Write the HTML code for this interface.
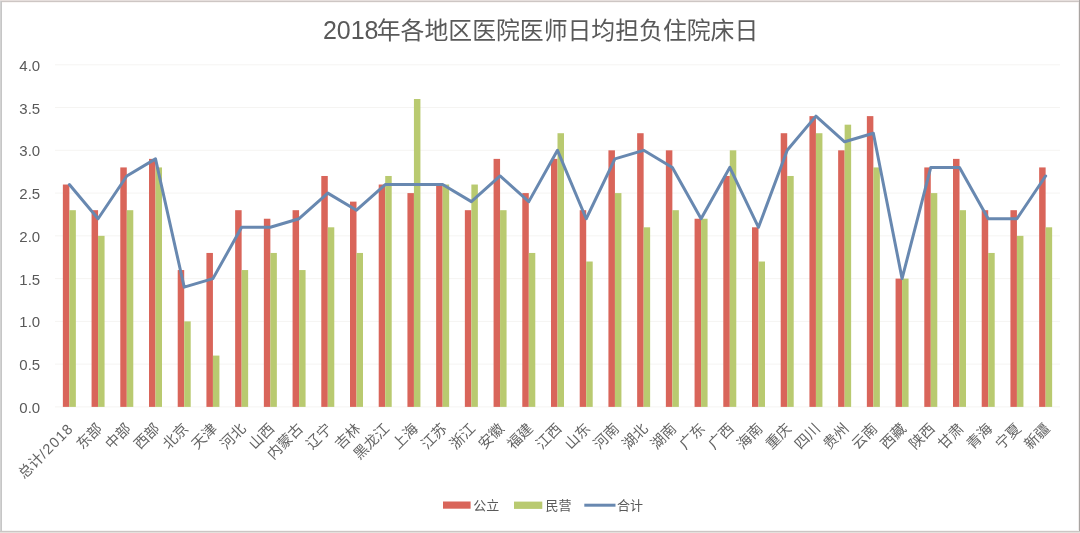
<!DOCTYPE html>
<html lang="zh"><head><meta charset="utf-8"><title>2018年各地区医院医师日均担负住院床日</title>
<style>html,body{margin:0;padding:0;background:#fff;overflow:hidden}svg{display:block}</style></head>
<body>
<svg width="1080" height="533" viewBox="0 0 1080 533">
<rect x="0" y="0" width="1080" height="533" fill="#fff"/>
<line x1="55.0" x2="1060.0" y1="406.90" y2="406.90" stroke="#f5f4f2" stroke-width="1"/>
<line x1="55.0" x2="1060.0" y1="364.14" y2="364.14" stroke="#f5f4f2" stroke-width="1"/>
<line x1="55.0" x2="1060.0" y1="321.38" y2="321.38" stroke="#f5f4f2" stroke-width="1"/>
<line x1="55.0" x2="1060.0" y1="278.61" y2="278.61" stroke="#f5f4f2" stroke-width="1"/>
<line x1="55.0" x2="1060.0" y1="235.85" y2="235.85" stroke="#f5f4f2" stroke-width="1"/>
<line x1="55.0" x2="1060.0" y1="193.09" y2="193.09" stroke="#f5f4f2" stroke-width="1"/>
<line x1="55.0" x2="1060.0" y1="150.32" y2="150.32" stroke="#f5f4f2" stroke-width="1"/>
<line x1="55.0" x2="1060.0" y1="107.56" y2="107.56" stroke="#f5f4f2" stroke-width="1"/>
<line x1="55.0" x2="1060.0" y1="64.80" y2="64.80" stroke="#f5f4f2" stroke-width="1"/>
<rect x="62.86" y="184.53" width="6.5" height="222.36" fill="#d9655a"/>
<rect x="69.36" y="210.19" width="6.5" height="196.71" fill="#b9ca70"/>
<rect x="91.57" y="210.19" width="6.5" height="196.71" fill="#d9655a"/>
<rect x="98.07" y="235.85" width="6.5" height="171.05" fill="#b9ca70"/>
<rect x="120.29" y="167.43" width="6.5" height="239.47" fill="#d9655a"/>
<rect x="126.79" y="210.19" width="6.5" height="196.71" fill="#b9ca70"/>
<rect x="149.00" y="158.88" width="6.5" height="248.02" fill="#d9655a"/>
<rect x="155.50" y="167.43" width="6.5" height="239.47" fill="#b9ca70"/>
<rect x="177.71" y="270.06" width="6.5" height="136.84" fill="#d9655a"/>
<rect x="184.21" y="321.38" width="6.5" height="85.52" fill="#b9ca70"/>
<rect x="206.43" y="252.95" width="6.5" height="153.94" fill="#d9655a"/>
<rect x="212.93" y="355.58" width="6.5" height="51.31" fill="#b9ca70"/>
<rect x="235.14" y="210.19" width="6.5" height="196.71" fill="#d9655a"/>
<rect x="241.64" y="270.06" width="6.5" height="136.84" fill="#b9ca70"/>
<rect x="263.86" y="218.74" width="6.5" height="188.16" fill="#d9655a"/>
<rect x="270.36" y="252.95" width="6.5" height="153.94" fill="#b9ca70"/>
<rect x="292.57" y="210.19" width="6.5" height="196.71" fill="#d9655a"/>
<rect x="299.07" y="270.06" width="6.5" height="136.84" fill="#b9ca70"/>
<rect x="321.29" y="175.98" width="6.5" height="230.92" fill="#d9655a"/>
<rect x="327.79" y="227.30" width="6.5" height="179.60" fill="#b9ca70"/>
<rect x="350.00" y="201.64" width="6.5" height="205.26" fill="#d9655a"/>
<rect x="356.50" y="252.95" width="6.5" height="153.94" fill="#b9ca70"/>
<rect x="378.71" y="184.53" width="6.5" height="222.36" fill="#d9655a"/>
<rect x="385.21" y="175.98" width="6.5" height="230.92" fill="#b9ca70"/>
<rect x="407.43" y="193.09" width="6.5" height="213.81" fill="#d9655a"/>
<rect x="413.93" y="99.01" width="6.5" height="307.89" fill="#b9ca70"/>
<rect x="436.14" y="184.53" width="6.5" height="222.36" fill="#d9655a"/>
<rect x="442.64" y="184.53" width="6.5" height="222.36" fill="#b9ca70"/>
<rect x="464.86" y="210.19" width="6.5" height="196.71" fill="#d9655a"/>
<rect x="471.36" y="184.53" width="6.5" height="222.36" fill="#b9ca70"/>
<rect x="493.57" y="158.88" width="6.5" height="248.02" fill="#d9655a"/>
<rect x="500.07" y="210.19" width="6.5" height="196.71" fill="#b9ca70"/>
<rect x="522.29" y="193.09" width="6.5" height="213.81" fill="#d9655a"/>
<rect x="528.79" y="252.95" width="6.5" height="153.94" fill="#b9ca70"/>
<rect x="551.00" y="158.88" width="6.5" height="248.02" fill="#d9655a"/>
<rect x="557.50" y="133.22" width="6.5" height="273.68" fill="#b9ca70"/>
<rect x="579.71" y="210.19" width="6.5" height="196.71" fill="#d9655a"/>
<rect x="586.21" y="261.51" width="6.5" height="145.39" fill="#b9ca70"/>
<rect x="608.43" y="150.32" width="6.5" height="256.57" fill="#d9655a"/>
<rect x="614.93" y="193.09" width="6.5" height="213.81" fill="#b9ca70"/>
<rect x="637.14" y="133.22" width="6.5" height="273.68" fill="#d9655a"/>
<rect x="643.64" y="227.30" width="6.5" height="179.60" fill="#b9ca70"/>
<rect x="665.86" y="150.32" width="6.5" height="256.57" fill="#d9655a"/>
<rect x="672.36" y="210.19" width="6.5" height="196.71" fill="#b9ca70"/>
<rect x="694.57" y="218.74" width="6.5" height="188.16" fill="#d9655a"/>
<rect x="701.07" y="218.74" width="6.5" height="188.16" fill="#b9ca70"/>
<rect x="723.29" y="175.98" width="6.5" height="230.92" fill="#d9655a"/>
<rect x="729.79" y="150.32" width="6.5" height="256.57" fill="#b9ca70"/>
<rect x="752.00" y="227.30" width="6.5" height="179.60" fill="#d9655a"/>
<rect x="758.50" y="261.51" width="6.5" height="145.39" fill="#b9ca70"/>
<rect x="780.71" y="133.22" width="6.5" height="273.68" fill="#d9655a"/>
<rect x="787.21" y="175.98" width="6.5" height="230.92" fill="#b9ca70"/>
<rect x="809.43" y="116.12" width="6.5" height="290.78" fill="#d9655a"/>
<rect x="815.93" y="133.22" width="6.5" height="273.68" fill="#b9ca70"/>
<rect x="838.14" y="150.32" width="6.5" height="256.57" fill="#d9655a"/>
<rect x="844.64" y="124.67" width="6.5" height="282.23" fill="#b9ca70"/>
<rect x="866.86" y="116.12" width="6.5" height="290.78" fill="#d9655a"/>
<rect x="873.36" y="167.43" width="6.5" height="239.47" fill="#b9ca70"/>
<rect x="895.57" y="278.61" width="6.5" height="128.29" fill="#d9655a"/>
<rect x="902.07" y="278.61" width="6.5" height="128.29" fill="#b9ca70"/>
<rect x="924.29" y="167.43" width="6.5" height="239.47" fill="#d9655a"/>
<rect x="930.79" y="193.09" width="6.5" height="213.81" fill="#b9ca70"/>
<rect x="953.00" y="158.88" width="6.5" height="248.02" fill="#d9655a"/>
<rect x="959.50" y="210.19" width="6.5" height="196.71" fill="#b9ca70"/>
<rect x="981.71" y="210.19" width="6.5" height="196.71" fill="#d9655a"/>
<rect x="988.21" y="252.95" width="6.5" height="153.94" fill="#b9ca70"/>
<rect x="1010.43" y="210.19" width="6.5" height="196.71" fill="#d9655a"/>
<rect x="1016.93" y="235.85" width="6.5" height="171.05" fill="#b9ca70"/>
<rect x="1039.14" y="167.43" width="6.5" height="239.47" fill="#d9655a"/>
<rect x="1045.64" y="227.30" width="6.5" height="179.60" fill="#b9ca70"/>
<polyline points="69.36,184.53 98.07,218.74 126.79,175.98 155.50,158.88 184.21,287.16 212.93,278.61 241.64,227.30 270.36,227.30 299.07,218.74 327.79,193.09 356.50,210.19 385.21,184.53 413.93,184.53 442.64,184.53 471.36,201.64 500.07,175.98 528.79,201.64 557.50,150.32 586.21,218.74 614.93,158.88 643.64,150.32 672.36,167.43 701.07,218.74 729.79,167.43 758.50,227.30 787.21,150.32 815.93,116.12 844.64,141.77 873.36,133.22 902.07,278.61 930.79,167.43 959.50,167.43 988.21,218.74 1016.93,218.74 1045.64,175.98" fill="none" stroke="#6888b0" stroke-width="3" stroke-linejoin="round" stroke-linecap="round"/>
<text x="19.3" y="412.90" font-size="15" fill="#595959" font-family="&quot;Liberation Sans&quot;, &quot;Noto Sans CJK SC&quot;, sans-serif">0.0</text>
<text x="19.3" y="370.14" font-size="15" fill="#595959" font-family="&quot;Liberation Sans&quot;, &quot;Noto Sans CJK SC&quot;, sans-serif">0.5</text>
<text x="19.3" y="327.38" font-size="15" fill="#595959" font-family="&quot;Liberation Sans&quot;, &quot;Noto Sans CJK SC&quot;, sans-serif">1.0</text>
<text x="19.3" y="284.61" font-size="15" fill="#595959" font-family="&quot;Liberation Sans&quot;, &quot;Noto Sans CJK SC&quot;, sans-serif">1.5</text>
<text x="19.3" y="241.85" font-size="15" fill="#595959" font-family="&quot;Liberation Sans&quot;, &quot;Noto Sans CJK SC&quot;, sans-serif">2.0</text>
<text x="19.3" y="199.09" font-size="15" fill="#595959" font-family="&quot;Liberation Sans&quot;, &quot;Noto Sans CJK SC&quot;, sans-serif">2.5</text>
<text x="19.3" y="156.32" font-size="15" fill="#595959" font-family="&quot;Liberation Sans&quot;, &quot;Noto Sans CJK SC&quot;, sans-serif">3.0</text>
<text x="19.3" y="113.56" font-size="15" fill="#595959" font-family="&quot;Liberation Sans&quot;, &quot;Noto Sans CJK SC&quot;, sans-serif">3.5</text>
<text x="19.3" y="70.80" font-size="15" fill="#595959" font-family="&quot;Liberation Sans&quot;, &quot;Noto Sans CJK SC&quot;, sans-serif">4.0</text>
<text transform="translate(74.36,429.40) rotate(-45)" text-anchor="end" font-size="14.5" fill="#646464" font-family="&quot;Liberation Sans&quot;, &quot;Noto Sans CJK SC&quot;, sans-serif">总计<tspan letter-spacing="1.1">/2018</tspan></text>
<text transform="translate(103.07,429.40) rotate(-45)" text-anchor="end" font-size="14.5" fill="#646464" font-family="&quot;Liberation Sans&quot;, &quot;Noto Sans CJK SC&quot;, sans-serif">东部</text>
<text transform="translate(131.79,429.40) rotate(-45)" text-anchor="end" font-size="14.5" fill="#646464" font-family="&quot;Liberation Sans&quot;, &quot;Noto Sans CJK SC&quot;, sans-serif">中部</text>
<text transform="translate(160.50,429.40) rotate(-45)" text-anchor="end" font-size="14.5" fill="#646464" font-family="&quot;Liberation Sans&quot;, &quot;Noto Sans CJK SC&quot;, sans-serif">西部</text>
<text transform="translate(189.21,429.40) rotate(-45)" text-anchor="end" font-size="14.5" fill="#646464" font-family="&quot;Liberation Sans&quot;, &quot;Noto Sans CJK SC&quot;, sans-serif">北京</text>
<text transform="translate(217.93,429.40) rotate(-45)" text-anchor="end" font-size="14.5" fill="#646464" font-family="&quot;Liberation Sans&quot;, &quot;Noto Sans CJK SC&quot;, sans-serif">天津</text>
<text transform="translate(246.64,429.40) rotate(-45)" text-anchor="end" font-size="14.5" fill="#646464" font-family="&quot;Liberation Sans&quot;, &quot;Noto Sans CJK SC&quot;, sans-serif">河北</text>
<text transform="translate(275.36,429.40) rotate(-45)" text-anchor="end" font-size="14.5" fill="#646464" font-family="&quot;Liberation Sans&quot;, &quot;Noto Sans CJK SC&quot;, sans-serif">山西</text>
<text transform="translate(304.07,429.40) rotate(-45)" text-anchor="end" font-size="14.5" fill="#646464" font-family="&quot;Liberation Sans&quot;, &quot;Noto Sans CJK SC&quot;, sans-serif">内蒙古</text>
<text transform="translate(332.79,429.40) rotate(-45)" text-anchor="end" font-size="14.5" fill="#646464" font-family="&quot;Liberation Sans&quot;, &quot;Noto Sans CJK SC&quot;, sans-serif">辽宁</text>
<text transform="translate(361.50,429.40) rotate(-45)" text-anchor="end" font-size="14.5" fill="#646464" font-family="&quot;Liberation Sans&quot;, &quot;Noto Sans CJK SC&quot;, sans-serif">吉林</text>
<text transform="translate(390.21,429.40) rotate(-45)" text-anchor="end" font-size="14.5" fill="#646464" font-family="&quot;Liberation Sans&quot;, &quot;Noto Sans CJK SC&quot;, sans-serif">黑龙江</text>
<text transform="translate(418.93,429.40) rotate(-45)" text-anchor="end" font-size="14.5" fill="#646464" font-family="&quot;Liberation Sans&quot;, &quot;Noto Sans CJK SC&quot;, sans-serif">上海</text>
<text transform="translate(447.64,429.40) rotate(-45)" text-anchor="end" font-size="14.5" fill="#646464" font-family="&quot;Liberation Sans&quot;, &quot;Noto Sans CJK SC&quot;, sans-serif">江苏</text>
<text transform="translate(476.36,429.40) rotate(-45)" text-anchor="end" font-size="14.5" fill="#646464" font-family="&quot;Liberation Sans&quot;, &quot;Noto Sans CJK SC&quot;, sans-serif">浙江</text>
<text transform="translate(505.07,429.40) rotate(-45)" text-anchor="end" font-size="14.5" fill="#646464" font-family="&quot;Liberation Sans&quot;, &quot;Noto Sans CJK SC&quot;, sans-serif">安徽</text>
<text transform="translate(533.79,429.40) rotate(-45)" text-anchor="end" font-size="14.5" fill="#646464" font-family="&quot;Liberation Sans&quot;, &quot;Noto Sans CJK SC&quot;, sans-serif">福建</text>
<text transform="translate(562.50,429.40) rotate(-45)" text-anchor="end" font-size="14.5" fill="#646464" font-family="&quot;Liberation Sans&quot;, &quot;Noto Sans CJK SC&quot;, sans-serif">江西</text>
<text transform="translate(591.21,429.40) rotate(-45)" text-anchor="end" font-size="14.5" fill="#646464" font-family="&quot;Liberation Sans&quot;, &quot;Noto Sans CJK SC&quot;, sans-serif">山东</text>
<text transform="translate(619.93,429.40) rotate(-45)" text-anchor="end" font-size="14.5" fill="#646464" font-family="&quot;Liberation Sans&quot;, &quot;Noto Sans CJK SC&quot;, sans-serif">河南</text>
<text transform="translate(648.64,429.40) rotate(-45)" text-anchor="end" font-size="14.5" fill="#646464" font-family="&quot;Liberation Sans&quot;, &quot;Noto Sans CJK SC&quot;, sans-serif">湖北</text>
<text transform="translate(677.36,429.40) rotate(-45)" text-anchor="end" font-size="14.5" fill="#646464" font-family="&quot;Liberation Sans&quot;, &quot;Noto Sans CJK SC&quot;, sans-serif">湖南</text>
<text transform="translate(706.07,429.40) rotate(-45)" text-anchor="end" font-size="14.5" fill="#646464" font-family="&quot;Liberation Sans&quot;, &quot;Noto Sans CJK SC&quot;, sans-serif">广东</text>
<text transform="translate(734.79,429.40) rotate(-45)" text-anchor="end" font-size="14.5" fill="#646464" font-family="&quot;Liberation Sans&quot;, &quot;Noto Sans CJK SC&quot;, sans-serif">广西</text>
<text transform="translate(763.50,429.40) rotate(-45)" text-anchor="end" font-size="14.5" fill="#646464" font-family="&quot;Liberation Sans&quot;, &quot;Noto Sans CJK SC&quot;, sans-serif">海南</text>
<text transform="translate(792.21,429.40) rotate(-45)" text-anchor="end" font-size="14.5" fill="#646464" font-family="&quot;Liberation Sans&quot;, &quot;Noto Sans CJK SC&quot;, sans-serif">重庆</text>
<text transform="translate(820.93,429.40) rotate(-45)" text-anchor="end" font-size="14.5" fill="#646464" font-family="&quot;Liberation Sans&quot;, &quot;Noto Sans CJK SC&quot;, sans-serif">四川</text>
<text transform="translate(849.64,429.40) rotate(-45)" text-anchor="end" font-size="14.5" fill="#646464" font-family="&quot;Liberation Sans&quot;, &quot;Noto Sans CJK SC&quot;, sans-serif">贵州</text>
<text transform="translate(878.36,429.40) rotate(-45)" text-anchor="end" font-size="14.5" fill="#646464" font-family="&quot;Liberation Sans&quot;, &quot;Noto Sans CJK SC&quot;, sans-serif">云南</text>
<text transform="translate(907.07,429.40) rotate(-45)" text-anchor="end" font-size="14.5" fill="#646464" font-family="&quot;Liberation Sans&quot;, &quot;Noto Sans CJK SC&quot;, sans-serif">西藏</text>
<text transform="translate(935.79,429.40) rotate(-45)" text-anchor="end" font-size="14.5" fill="#646464" font-family="&quot;Liberation Sans&quot;, &quot;Noto Sans CJK SC&quot;, sans-serif">陕西</text>
<text transform="translate(964.50,429.40) rotate(-45)" text-anchor="end" font-size="14.5" fill="#646464" font-family="&quot;Liberation Sans&quot;, &quot;Noto Sans CJK SC&quot;, sans-serif">甘肃</text>
<text transform="translate(993.21,429.40) rotate(-45)" text-anchor="end" font-size="14.5" fill="#646464" font-family="&quot;Liberation Sans&quot;, &quot;Noto Sans CJK SC&quot;, sans-serif">青海</text>
<text transform="translate(1021.93,429.40) rotate(-45)" text-anchor="end" font-size="14.5" fill="#646464" font-family="&quot;Liberation Sans&quot;, &quot;Noto Sans CJK SC&quot;, sans-serif">宁夏</text>
<text transform="translate(1050.64,429.40) rotate(-45)" text-anchor="end" font-size="14.5" fill="#646464" font-family="&quot;Liberation Sans&quot;, &quot;Noto Sans CJK SC&quot;, sans-serif">新疆</text>
<text x="322.9" y="38.7" font-size="25" fill="#595959" font-family="&quot;Liberation Sans&quot;, &quot;Noto Sans CJK SC&quot;, sans-serif">2018</text>
<text x="376.75" y="39.2" font-size="23.85" fill="#595959" font-family="&quot;Liberation Sans&quot;, &quot;Noto Sans CJK SC&quot;, sans-serif">年各地区医院医师日均担负住院床日</text>
<rect x="443" y="501.5" width="27.6" height="7.2" fill="#d9655a"/>
<text x="473.2" y="510.3" font-size="13" fill="#595959" font-family="&quot;Liberation Sans&quot;, &quot;Noto Sans CJK SC&quot;, sans-serif">公立</text>
<rect x="514" y="501.6" width="28.3" height="7.3" fill="#b9ca70"/>
<text x="545.6" y="510.3" font-size="13" fill="#595959" font-family="&quot;Liberation Sans&quot;, &quot;Noto Sans CJK SC&quot;, sans-serif">民营</text>
<line x1="584.3" x2="615.5" y1="505.2" y2="505.2" stroke="#6888b0" stroke-width="3"/>
<text x="617" y="510.3" font-size="13" fill="#595959" font-family="&quot;Liberation Sans&quot;, &quot;Noto Sans CJK SC&quot;, sans-serif">合计</text>
<rect x="0" y="0" width="1080" height="1" fill="#e6dfdd"/>
<rect x="0" y="1" width="1080" height="1" fill="#cdc6c4"/>
<rect x="2" y="2" width="1077" height="1" fill="#f9f6f4"/>
<rect x="0" y="1" width="1" height="532" fill="#d2d2d2"/>
<rect x="1" y="1" width="1" height="532" fill="#c6c6c6"/>
<rect x="1078" y="2" width="1" height="529" fill="#f1edec"/>
<rect x="1079" y="0" width="1" height="533" fill="#a8a4a2"/>
<rect x="2" y="530" width="1077" height="1" fill="#f6f4f3"/>
<rect x="0" y="531" width="1080" height="1" fill="#cbc6c4"/>
<rect x="0" y="532" width="1080" height="1" fill="#e4e0dc"/>
</svg>
</body></html>
